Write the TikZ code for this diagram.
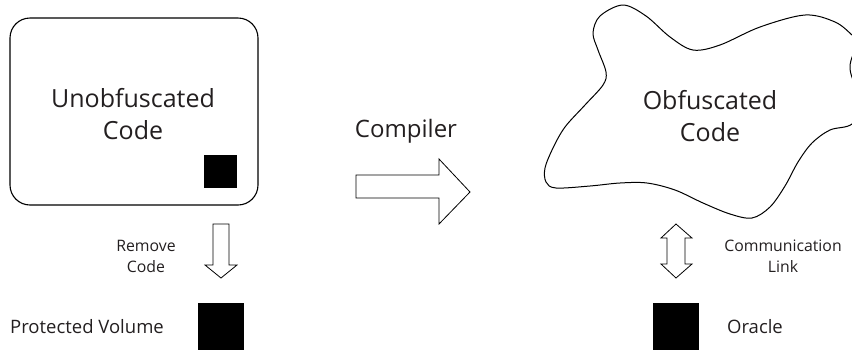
\documentclass[tikz,border=0pt]{standalone}
\usepackage{fontspec}
\setmainfont{Open Sans}
\definecolor{ink}{RGB}{35,31,32}
\begin{document}
\begin{tikzpicture}[x=1pt,y=-1pt,
  lbl/.style={inner sep=0pt,text=ink,align=center},
  big/.style={lbl,font=\fontsize{25}{32}\selectfont},
  mid/.style={lbl,font=\fontsize{18.5}{22}\selectfont},
  small/.style={lbl,font=\fontsize{15.8}{21}\selectfont},
  outline/.style={draw=black,line width=1.1pt},
  hollow/.style={draw=black,line width=0.8pt,fill=white,line join=miter},
  blk/.style={fill=black,draw=none,inner sep=0pt}]
\useasboundingbox (0,0) rectangle (852,349);
% left box
\node[outline,rounded corners=20pt,minimum width=248pt,minimum height=187pt,inner sep=0pt] (src) at (134,111.5) {};
\node[big,anchor=south] (srctext) at (133,140) {Unobfuscated\\Code};
\node[blk,minimum width=33pt,minimum height=33pt] (secret) at (220.5,171.5) {};
% cloud
\draw[outline,line width=1pt] plot[smooth cycle,tension=0.55] coordinates {
 (623,5) (646,16) (670,37) (693,50) (720,45) (760,27) (805,15) (835,22)
 (852,35) (861,45) (853,55) (850,67) (853,80) (864,102) (852,124)
 (830,130) (812,143) (798,162) (785,186) (770,207) (752,218) (730,214)
 (703,203) (675,190) (647,183) (620,183) (590,186) (556,188) (546,182)
 (545,168) (553,148) (565,127) (585,105) (603,85) (606,72) (598,50)
 (593,33) (600,16)};
\node[big,anchor=south] (objtext) at (710,142) {Obfuscated\\Code};
% compiler arrow
\node[big,font=\fontsize{24}{28}\selectfont,anchor=base] (comp) at (406,137) {Compiler};
\draw[hollow] (356,175) -- (439,175) -- (439,159) -- (470,192) -- (439,224) -- (439,198) -- (356,198) -- cycle;
% remove arrow
\draw[hollow] (213,224) -- (229,224) -- (229,265) -- (237,265) -- (221,278) -- (205,265) -- (213,265) -- cycle;
\node[small,anchor=south] (remove) at (146,273) {Remove\\Code};
% protected volume
\node[blk,minimum width=46pt,minimum height=50pt] (vol) at (221,328) {};
\node[mid,anchor=base] (voltext) at (87,333) {Protected Volume};
% communication arrow
\draw[hollow] (676,224) -- (692,238) -- (685,238) -- (685,264) -- (692,264) -- (676,278) -- (661,264) -- (667,264) -- (667,238) -- (661,238) -- cycle;
\node[small,anchor=south] (link) at (783,273) {Communication\\Link};
% oracle
\node[blk,minimum width=46pt,minimum height=50pt] (oracle) at (676,328) {};
\node[mid,anchor=base] (oracletext) at (755,333) {Oracle};
\end{tikzpicture}
\end{document}
